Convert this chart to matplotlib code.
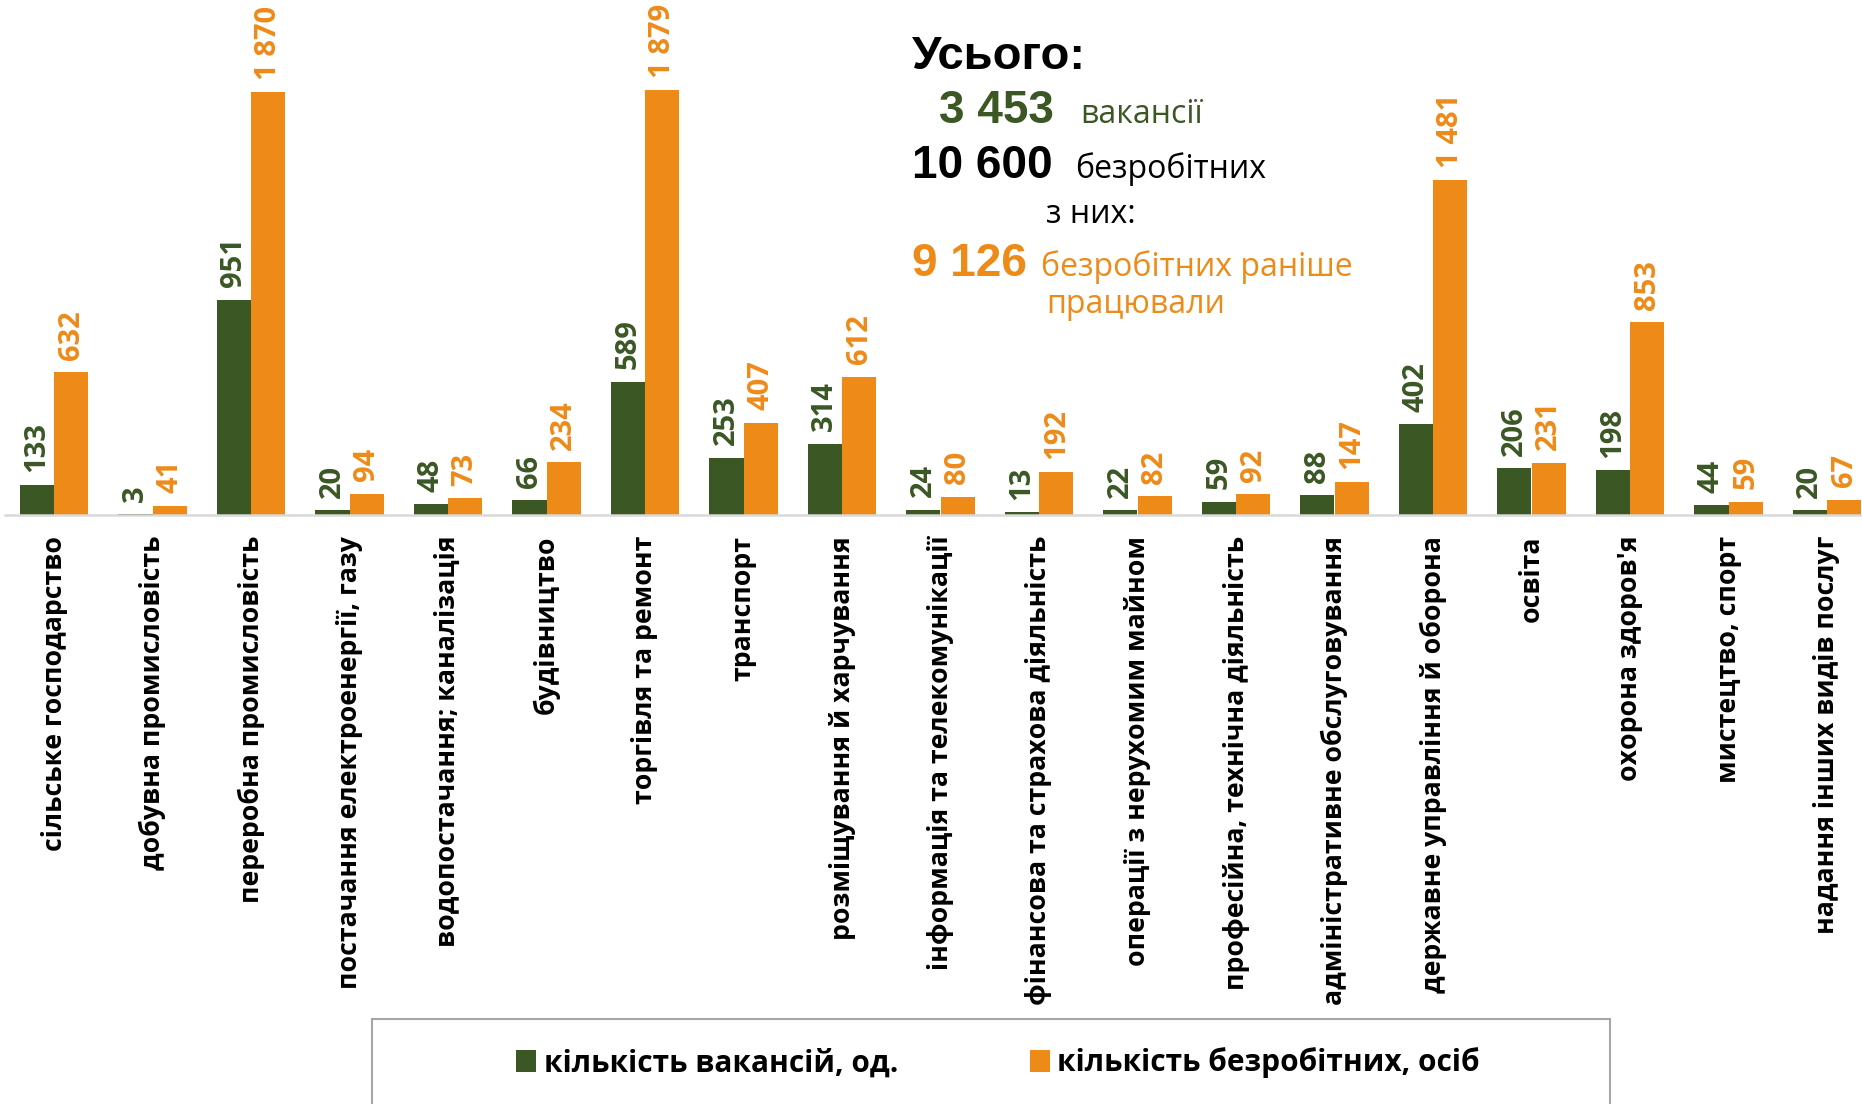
import matplotlib
matplotlib.use("Agg")
import matplotlib.pyplot as plt
from matplotlib.patches import Rectangle

##### data
categories = [
    "сільське господарство", "добувна промисловість", "переробна промисловість",
    "постачання електроенергії, газу", "водопостачання; каналізація", "будівництво",
    "торгівля та ремонт", "транспорт", "розміщування й харчування",
    "інформація та телекомунікації", "фінансова та страхова діяльність",
    "операції з нерухомим майном", "професійна, технічна діяльність",
    "адміністративне обслуговування", "державне управління й оборона", "освіта",
    "охорона здоров'я", "мистецтво, спорт", "надання інших видів послуг",
]
vacancies = [133, 3, 951, 20, 48, 66, 589, 253, 314, 24, 13, 22, 59, 88, 402, 206, 198, 44, 20]
unemployed = [632, 41, 1870, 94, 73, 234, 1879, 407, 612, 80, 192, 82, 92, 147, 1481, 231, 853, 59, 67]
series_names = ["кількість вакансій, од.", "кількість безробітних, осіб"]

total_vac = "3 453"
total_unemp = "10 600"
total_worked = "9 126"

GREEN = "#3a5724"
ORANGE = "#ee8a18"
W, H = 1862, 1104

sans = ["Open Sans", "DejaVu Sans"]
arial = ["Liberation Sans", "DejaVu Sans"]


def fmt(v):
    return f"{v:,}".replace(",", " ")


fig = plt.figure(figsize=(W / 100, H / 100), dpi=100)
ax = fig.add_axes([4.75 / W, 1 - 515 / H, 19 * 98.5 / W, 515 / H])

x = list(range(len(categories)))
bw = 0.35
b1 = ax.bar([i - bw / 2 for i in x], vacancies, bw, color=GREEN, label=series_names[0])
b2 = ax.bar([i + bw / 2 for i in x], unemployed, bw, color=ORANGE, label=series_names[1])

for bars, vals, col in ((b1, vacancies, GREEN), (b2, unemployed, ORANGE)):
    for r, v in zip(bars, vals):
        ax.annotate(fmt(v), (r.get_x() + r.get_width() / 2, v), xytext=(0, 9),
                    textcoords="offset points", rotation=90, ha="center", va="bottom",
                    color=col, fontsize=21, fontweight="bold", family=sans)

ax.set_xlim(-0.5, len(categories) - 0.5)
ax.set_ylim(0, 2277)
ax.set_yticks([])
for s in ("top", "left", "right"):
    ax.spines[s].set_visible(False)
ax.spines["bottom"].set_color("#d9d9d9")
ax.spines["bottom"].set_linewidth(1.8)
ax.set_xticks(x)
ax.set_xticklabels(categories, rotation=90, ha="center", va="top",
                   fontsize=19.2, fontweight="bold", family=sans)
ax.tick_params(axis="x", length=0, pad=15)


def ftext(px, py, s, **kw):
    fig.text(px / W, 1 - py / H, s, va="baseline", ha="left", **kw)


# summary block
ftext(912, 69, "Усього:", fontsize=34, fontweight="bold", family=arial, color="black")
ftext(939, 123, total_vac, fontsize=33, fontweight="bold", family=arial, color=GREEN)
ftext(1080, 123, "вакансії", fontsize=23, family=sans, color=GREEN)
ftext(912, 178, total_unemp, fontsize=33, fontweight="bold", family=arial, color="black")
ftext(1075, 178, "безробітних", fontsize=23, family=sans, color="black")
ftext(1046, 223, "з них:", fontsize=23, family=sans, color="black")
ftext(912, 276, total_worked, fontsize=33, fontweight="bold", family=arial, color=ORANGE)
ftext(1041, 276, "безробітних раніше", fontsize=23, family=sans, color=ORANGE)
ftext(1046, 313, "працювали", fontsize=23, family=sans, color=ORANGE)

# legend box (open at the bottom edge)
fig.add_artist(Rectangle((372 / W, -0.02), (1610 - 372) / W, (H - 1019) / H + 0.02,
                         transform=fig.transFigure, fill=False, edgecolor="#a6a6a6", lw=1.5))
fig.legend([b1, b2], series_names, loc="center", bbox_to_anchor=(998 / W, 1 - 1063 / H),
           ncol=2, frameon=False, handlelength=0.68, handleheight=0.72, handletextpad=0.25,
           columnspacing=4.4, prop={"family": sans, "weight": "bold", "size": 21.5})

fig.savefig("out.png", dpi=100)
